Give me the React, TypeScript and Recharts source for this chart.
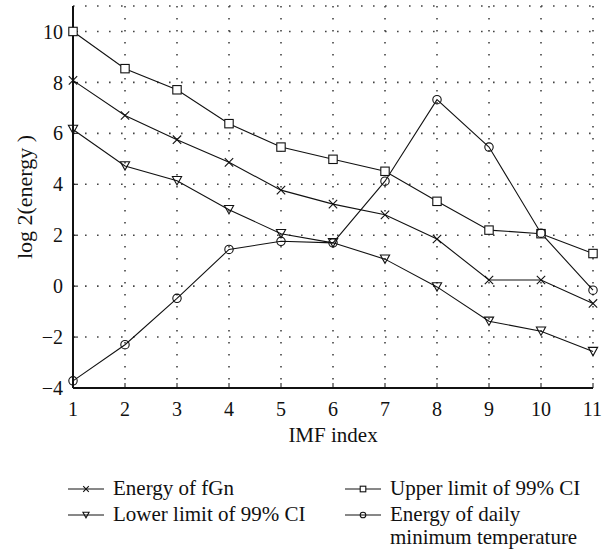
import { CartesianGrid, Legend, Line, LineChart, XAxis, YAxis } from "recharts";

const imfIndex = [1, 2, 3, 4, 5, 6, 7, 8, 9, 10, 11];
const energyFgn = [8.08, 6.7, 5.75, 4.86, 3.77, 3.22, 2.8, 1.85, 0.24, 0.24, -0.68];
const upperLimit = [10.0, 8.54, 7.71, 6.38, 5.46, 4.98, 4.51, 3.33, 2.2, 2.06, 1.28];
const lowerLimit = [6.15, 4.72, 4.14, 3.0, 2.06, 1.7, 1.06, -0.03, -1.38, -1.77, -2.57];
const energyTemp = [-3.72, -2.3, -0.48, 1.44, 1.76, 1.7, 4.12, 7.32, 5.46, 2.08, -0.16];

const yTicks = [-4, -2, 0, 2, 4, 6, 8, 10];

const data = imfIndex.map((x, i) => ({
	imf: x,
	fgn: energyFgn[i],
	upper: upperLimit[i],
	lower: lowerLimit[i],
	temp: energyTemp[i],
}));

const FONT = "Liberation Serif, DejaVu Serif, serif";

type MarkerKind = "cross" | "square" | "triangle" | "circle";

const Marker = ({ kind, cx, cy, s }: { kind: MarkerKind; cx: number; cy: number; s: number }) => {
	const st = { fill: "none", stroke: "#111", strokeWidth: 1.1 };
	if (kind === "cross")
		return (
			<g {...st}>
				<line x1={cx - s} y1={cy - s} x2={cx + s} y2={cy + s} />
				<line x1={cx - s} y1={cy + s} x2={cx + s} y2={cy - s} />
			</g>
		);
	if (kind === "square") return <rect x={cx - s} y={cy - s} width={2 * s} height={2 * s} {...st} fill="#fff" />;
	if (kind === "triangle")
		return <polygon points={`${cx - s * 1.1},${cy - s} ${cx + s * 1.1},${cy - s} ${cx},${cy + s}`} {...st} />;
	return <circle cx={cx} cy={cy} r={s} {...st} />;
};

const dotFor = (kind: MarkerKind) => (p: any) =>
	p.cx == null ? null : <Marker key={`${kind}-${p.index}`} kind={kind} cx={p.cx} cy={p.cy} s={4.2} />;

const series: { key: string; name: string; kind: MarkerKind }[] = [
	{ key: "fgn", name: "Energy of fGn", kind: "cross" },
	{ key: "upper", name: "Upper limit of 99% CI", kind: "square" },
	{ key: "lower", name: "Lower limit of 99% CI", kind: "triangle" },
	{ key: "temp", name: "Energy of daily\nminimum temperature", kind: "circle" },
];

// legend cell positions (two columns, two rows), relative to legend top (y=440)
const legendPos: Record<string, { left: number; top: number }> = {
	fgn: { left: 67, top: 37 },
	upper: { left: 344, top: 37 },
	lower: { left: 67, top: 63 },
	temp: { left: 344, top: 63 },
};

const minus = (v: number) => String(v).replace("-", "\u2212");

const LegendBox = ({ payload }: any) => (
	<div style={{ position: "relative", width: 602, height: 112, fontFamily: FONT, fontSize: 21, color: "#111" }}>
		{(payload || []).map((item: any) => {
			const s = series.find((d) => d.key === item.dataKey);
			if (!s) return null;
			const pos = legendPos[s.key];
			return (
				<div key={s.key} style={{ position: "absolute", left: pos.left, top: pos.top, display: "flex" }}>
					<svg width={40} height={24} style={{ flex: "none" }}>
						<line x1={1} y1={12} x2={37} y2={12} stroke="#111" strokeWidth={1} />
						<Marker kind={s.kind} cx={19} cy={12} s={2.8} />
					</svg>
					<div style={{ marginLeft: 6, lineHeight: "23px", whiteSpace: "pre" }}>{s.name}</div>
				</div>
			);
		})}
	</div>
);

export default function App() {
	return (
		<div style={{ position: "absolute", left: 0, top: 0, width: 602, height: 552, background: "#fff" }}>
			<LineChart width={602} height={552} data={data} margin={{ top: 6, right: 9, left: 0, bottom: 0 }}>
				<CartesianGrid stroke="#444" strokeWidth={1.6} strokeDasharray="1.6 10.4" />
				<XAxis
					dataKey="imf"
					type="number"
					domain={[1, 11]}
					ticks={imfIndex}
					height={52}
					tickSize={-5}
					tickMargin={19}
					axisLine={{ stroke: "#111", strokeWidth: 2 }}
					tickLine={{ stroke: "#111" }}
					tick={{ fill: "#111", fontFamily: FONT, fontSize: 20 }}
					label={{ value: "IMF index", position: "bottom", offset: -13, fill: "#111", fontFamily: FONT, fontSize: 21 }}
				/>
				<XAxis
					xAxisId="top"
					orientation="top"
					dataKey="imf"
					type="number"
					domain={[1, 11]}
					ticks={imfIndex}
					height={0}
					tickSize={-5}
					tick={false}
					axisLine={{ stroke: "#111", strokeWidth: 1.6 }}
					tickLine={{ stroke: "#111" }}
				/>
				<YAxis
					domain={[-4, 11]}
					ticks={yTicks}
					width={73}
					tickSize={-5}
					tickMargin={15}
					tickFormatter={minus}
					axisLine={{ stroke: "#111", strokeWidth: 2 }}
					tickLine={{ stroke: "#111" }}
					tick={{ fill: "#111", fontFamily: FONT, fontSize: 20 }}
					label={{ value: "log 2(energy )", angle: -90, position: "center", dx: -12, fill: "#111", fontFamily: FONT, fontSize: 22 }}
				/>
				<YAxis
					yAxisId="right"
					orientation="right"
					domain={[-4, 11]}
					ticks={yTicks}
					width={0}
					tickSize={-5}
					tick={false}
					axisLine={{ stroke: "#111", strokeWidth: 1.6 }}
					tickLine={{ stroke: "#111" }}
				/>
				<Legend verticalAlign="bottom" height={112} content={<LegendBox />} wrapperStyle={{ left: 0, top: 440, width: 602, height: 112 }} />
				{series.map((s) => (
					<Line
						key={s.key}
						dataKey={s.key}
						name={s.name}
						stroke="#111"
						strokeWidth={1.1}
						dot={dotFor(s.kind)}
						activeDot={false}
						isAnimationActive={false}
					/>
				))}
			</LineChart>
		</div>
	);
}
